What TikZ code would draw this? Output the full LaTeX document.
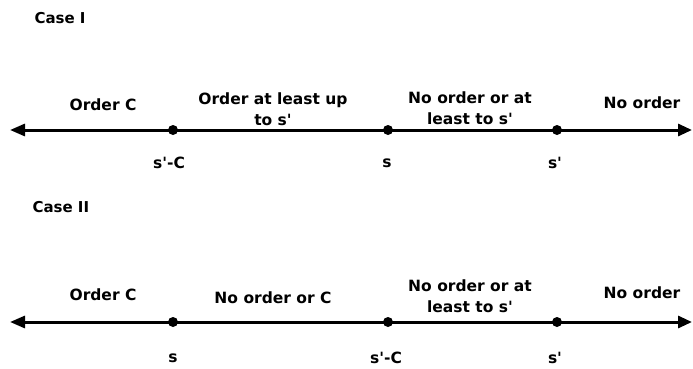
\documentclass[tikz,border=0pt]{standalone}
\usepackage{fontspec}
\setmainfont{DejaVu Sans}
\usetikzlibrary{arrows.meta, positioning}
\newcommand{\pr}{\textquotesingle}

\begin{document}
\begin{tikzpicture}[x=1pt, y=1pt,
    axis/.style={{Triangle[length=15pt,width=12pt]}-{Triangle[length=14pt,width=12pt]}, line width=3pt},
    point/.style={circle, fill=black, inner sep=0pt, minimum size=10pt},
    region/.style={align=center, font=\fontsize{15.5}{21}\selectfont\bfseries},
    pointlabel/.style={font=\fontsize{15.5}{18}\selectfont\bfseries},
    casehead/.style={anchor=west, font=\fontsize{15}{18}\selectfont\bfseries}
  ]
  \useasboundingbox (0,0) rectangle (693,368);

  % case I
  \node[casehead] (caseA) at (31,350) {Case I};
  \coordinate (leftA) at (10,238);
  \coordinate (rightA) at (692,238);
  \draw[axis] (leftA) -- (rightA);
  \node[point] (a1) at (173,238) {};
  \node[point] (a2) at (388,238) {};
  \node[point] (a3) at (557,238) {};
  \node[pointlabel] (a1l) at (169,205) {s\pr-C};
  \node[pointlabel] (a2l) at (387,205) {s};
  \node[pointlabel] (a3l) at (555,205) {s\pr};
  \node[region] (ra0) at (103,263) {Order C};
  \node[region] (ra1) at (273,259) {Order at least up\\to s\pr};
  \node[region] (ra2) at (470,260) {No order or at\\least to s\pr};
  \node[region] (ra3) at (642,265) {No order};

  % case II
  \node[casehead] (caseB) at (29,161) {Case II};
  \coordinate (leftB) at (10,46);
  \coordinate (rightB) at (692,46);
  \draw[axis] (leftB) -- (rightB);
  \node[point] (b1) at (173,46) {};
  \node[point] (b2) at (388,46) {};
  \node[point] (b3) at (557,46) {};
  \node[pointlabel] (b1l) at (173,10) {s};
  \node[pointlabel] (b2l) at (386,10) {s\pr-C};
  \node[pointlabel] (b3l) at (555,10) {s\pr};
  \node[region] (rb0) at (103,73) {Order C};
  \node[region] (rb1) at (273,70) {No order or C};
  \node[region] (rb2) at (470,72) {No order or at\\least to s\pr};
  \node[region] (rb3) at (642,75) {No order};
\end{tikzpicture}
\end{document}
